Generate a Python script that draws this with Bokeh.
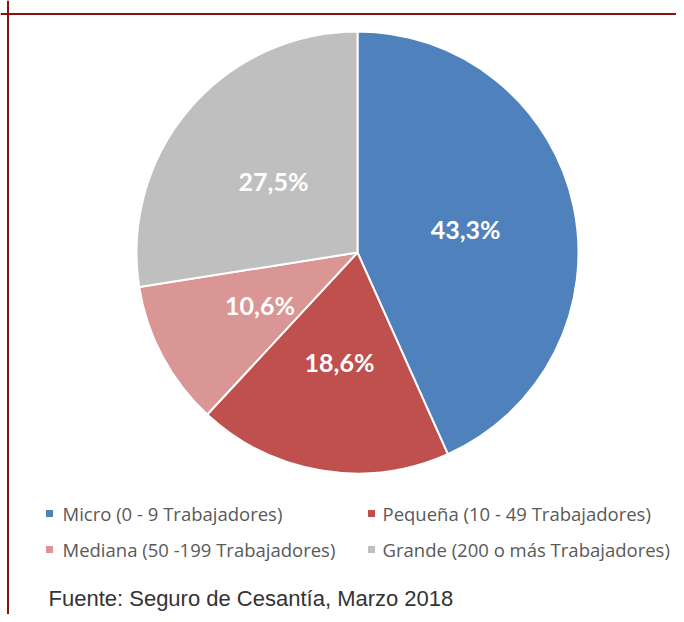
import numpy as np
from bokeh.plotting import figure
from bokeh.models import Span, ColumnDataSource
from bokeh.core.properties import value
from bokeh.embed import file_html
from bokeh.resources import INLINE

# ---- data ----
categories = [
    "Micro (0 - 9 Trabajadores)",
    "Pequeña (10 - 49 Trabajadores)",
    "Mediana (50 -199 Trabajadores)",
    "Grande (200 o más Trabajadores)",
]
shares = [43.3, 18.6, 10.6, 27.5]
share_labels = ["43,3%", "18,6%", "10,6%", "27,5%"]
colors = ["#4F81BD", "#C0504D", "#D99694", "#BFBFBF"]
source_note = "Fuente: Seguro de Cesantía, Marzo 2018"

# ---- layout (canvas pixels, measured from top-left) ----
W, H = 676, 614


def X(px):
    return px


def Y(py):
    return H - py


CX, CY, R = X(357), Y(252), 221
LABEL_R = 0.5 * R
LEG_SQ_X = [X(49), X(371)]
LEG_TX_X = [X(62), X(382)]
LEG_Y = [Y(513), Y(549)]

p = figure(width=W, height=H, x_range=(0, W), y_range=(0, H),
           output_backend="svg", toolbar_location=None, min_border=0)
p.axis.visible = False
p.grid.visible = False
p.outline_line_color = None
p.background_fill_color = "white"
p.border_fill_color = "white"

# pie
vals = np.array(shares, dtype=float)
frac = vals / vals.sum()
ends_cum = np.cumsum(frac)
starts_cum = ends_cum - frac
start_ang = np.pi / 2 - 2 * np.pi * starts_cum
end_ang = np.pi / 2 - 2 * np.pi * ends_cum
mid_ang = (start_ang + end_ang) / 2

src = ColumnDataSource(dict(
    start=start_ang, end=end_ang, color=colors,
    lx=CX + LABEL_R * np.cos(mid_ang), ly=CY + LABEL_R * np.sin(mid_ang),
    lab=share_labels,
))
p.wedge(x=CX, y=CY, radius=R, start_angle="start", end_angle="end",
        direction="clock", fill_color="color", line_color="white",
        line_width=2, source=src)
p.text(x="lx", y="ly", text="lab", source=src, text_color="white",
       text_font=value("Lato"), text_font_style="bold",
       text_font_size="25px", text_align="center", text_baseline="middle")

# legend
idx = np.arange(len(categories))
leg = ColumnDataSource(dict(
    sx=[LEG_SQ_X[i % 2] for i in idx],
    tx=[LEG_TX_X[i % 2] for i in idx],
    y=[LEG_Y[i // 2] for i in idx],
    color=colors, name=categories,
))
p.scatter(x="sx", y="y", marker="square", size=7, fill_color="color",
          line_color=None, source=leg)
p.text(x="tx", y="y", text="name", source=leg, text_color="#595959",
       text_font=value("Open Sans"), text_font_size="18.5px",
       text_align="left", text_baseline="middle")

# source note
p.text(x=[X(48)], y=[Y(598)], text=[source_note], text_color="#333333",
       text_font=value("Liberation Sans"), text_font_size="22px",
       text_align="left", text_baseline="middle")

# frame lines (top and left)
p.add_layout(Span(location=Y(13.5), dimension="width",
                  line_color="#8B1010", line_width=2))
p.add_layout(Span(location=X(7.5), dimension="height",
                  line_color="#8B1010", line_width=2))

open("out.html", "w").write(file_html(p, INLINE))
